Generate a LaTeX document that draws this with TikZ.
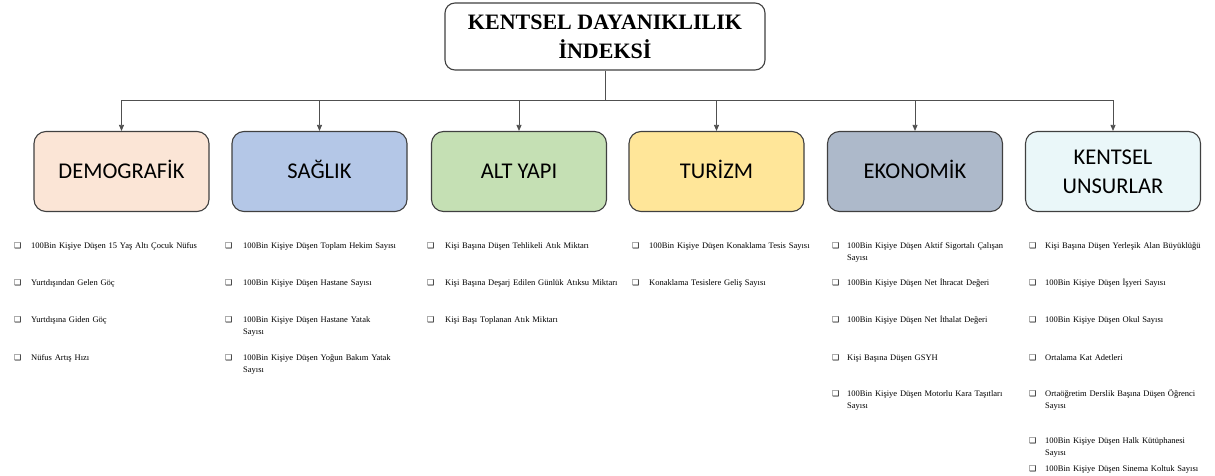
\documentclass[tikz,border=0pt]{standalone}
\usepackage{fontspec}
\setmainfont{Liberation Serif}
\newfontfamily\carl{Carlito}
\newfontfamily\dvs{DejaVu Sans}
\usetikzlibrary{arrows.meta}
\definecolor{cDem}{HTML}{FBE5D6}
\definecolor{cSag}{HTML}{B4C7E7}
\definecolor{cAlt}{HTML}{C5E0B4}
\definecolor{cTur}{HTML}{FFE699}
\definecolor{cEko}{HTML}{ADB9CA}
\definecolor{cKen}{HTML}{EAF7F9}
\definecolor{edge}{HTML}{404040}
\definecolor{line}{HTML}{505050}
\begin{document}
\begin{tikzpicture}[x=1pt,y=1pt,
  topbox/.style={draw=edge, line width=1.1pt, rounded corners=10pt, fill=white,
    minimum width=320pt, minimum height=67pt, align=center, inner sep=0pt,
    font=\bfseries\fontsize{22}{29}\selectfont},
  catbox/.style={draw=edge, line width=1.1pt, rounded corners=12pt,
    minimum width=175pt, minimum height=80pt, align=center, inner sep=0pt,
    font=\carl\fontsize{22.5}{29}\selectfont},
  one/.style={text height=14.5pt, text depth=0pt},
  conn/.style={draw=line, line width=0.8pt},
  arr/.style={conn, -{Triangle[length=6pt,width=5pt]}},
  itm/.style={anchor=base west, inner sep=0pt, text width=190pt, align=left,
    font=\fontsize{8.5}{12}\selectfont},
  bul/.style={anchor=base west, inner sep=0pt, font=\dvs\fontsize{8}{9}\selectfont}
]
\useasboundingbox (0,0) rectangle (1215,-476);

\node[topbox] (top) at (605,-36.5) {KENTSEL DAYANIKLILIK\\İNDEKSİ};

\node[catbox, one, fill=cDem] (dem) at (121.5,-171.5) {DEMOGRAFİK};
\node[catbox, one, fill=cSag] (sag) at (319.5,-171.5) {SAĞLIK};
\node[catbox, one, fill=cAlt] (alt) at (519,-171.5) {ALT YAPI};
\node[catbox, one, fill=cTur] (tur) at (716.5,-171.5) {TURİZM};
\node[catbox, one, fill=cEko] (eko) at (915,-171.5) {EKONOMİK};
\node[catbox, fill=cKen] (ken) at (1113,-171.5) {KENTSEL\\UNSURLAR};

\coordinate (bus) at (605,-100);
\draw[conn] (top.south) -- (top.south |- bus);
\foreach \b in {dem,sag,alt,tur,eko,ken}
  \draw[arr] (top.south |- bus) -| (\b.north);

% DEMOGRAFIK
\foreach \t/\y [count=\i] in {
  {100Bin Kişiye Düşen 15 Yaş Altı Çocuk Nüfus}/248,
  {Yurtdışından Gelen Göç}/285,
  {Yurtdışına Giden Göç}/322.5,
  {Nüfus Artış Hızı}/360}{
  \node[bul] (db\i) at (14,-\y) {❑};
  \node[itm] (d\i) at (31,-\y) {\t};
}
% SAGLIK
\foreach \t/\y [count=\i] in {
  {100Bin Kişiye Düşen Toplam Hekim Sayısı}/248,
  {100Bin Kişiye Düşen Hastane Sayısı}/285,
  {100Bin Kişiye Düşen Hastane Yatak\\Sayısı}/322.5,
  {100Bin Kişiye Düşen Yoğun Bakım Yatak\\Sayısı}/360}{
  \node[bul] (sb\i) at (225,-\y) {❑};
  \node[itm] (s\i) at (243,-\y) {\t};
}
% ALT YAPI
\foreach \t/\y [count=\i] in {
  {Kişi Başına Düşen Tehlikeli  Atık Miktarı}/248,
  {Kişi Başına Deşarj Edilen Günlük  Atıksu Miktarı}/285,
  {Kişi Başı Toplanan Atık Miktarı}/322.5}{
  \node[bul] (ab\i) at (427,-\y) {❑};
  \node[itm] (a\i) at (445,-\y) {\t};
}
% TURIZM
\foreach \t/\y [count=\i] in {
  {100Bin Kişiye Düşen Konaklama Tesis Sayısı}/248,
  {Konaklama Tesislere Geliş Sayısı}/285}{
  \node[bul] (tb\i) at (632,-\y) {❑};
  \node[itm] (t\i) at (649,-\y) {\t};
}
% EKONOMIK
\foreach \t/\y [count=\i] in {
  {100Bin Kişiye Düşen Aktif Sigortalı Çalışan\\Sayısı}/248,
  {100Bin Kişiye Düşen Net İhracat Değeri}/285,
  {100Bin Kişiye Düşen Net İthalat Değeri}/322.5,
  {Kişi Başına Düşen GSYH}/360,
  {100Bin Kişiye Düşen Motorlu Kara Taşıtları\\Sayısı}/396}{
  \node[bul] (eb\i) at (832,-\y) {❑};
  \node[itm] (e\i) at (847,-\y) {\t};
}
% KENTSEL UNSURLAR
\foreach \t/\y [count=\i] in {
  {Kişi Başına Düşen Yerleşik Alan Büyüklüğü}/248,
  {100Bin Kişiye Düşen İşyeri Sayısı}/285,
  {100Bin Kişiye Düşen Okul Sayısı}/322.5,
  {Ortalama Kat Adetleri}/360,
  {Ortaöğretim Derslik Başına Düşen Öğrenci\\Sayısı}/396,
  {100Bin Kişiye Düşen Halk Kütüphanesi\\Sayısı}/443,
  {100Bin Kişiye Düşen Sinema Koltuk Sayısı}/471}{
  \node[bul] (kb\i) at (1029,-\y) {❑};
  \node[itm] (k\i) at (1045,-\y) {\t};
}
\end{tikzpicture}
\end{document}
